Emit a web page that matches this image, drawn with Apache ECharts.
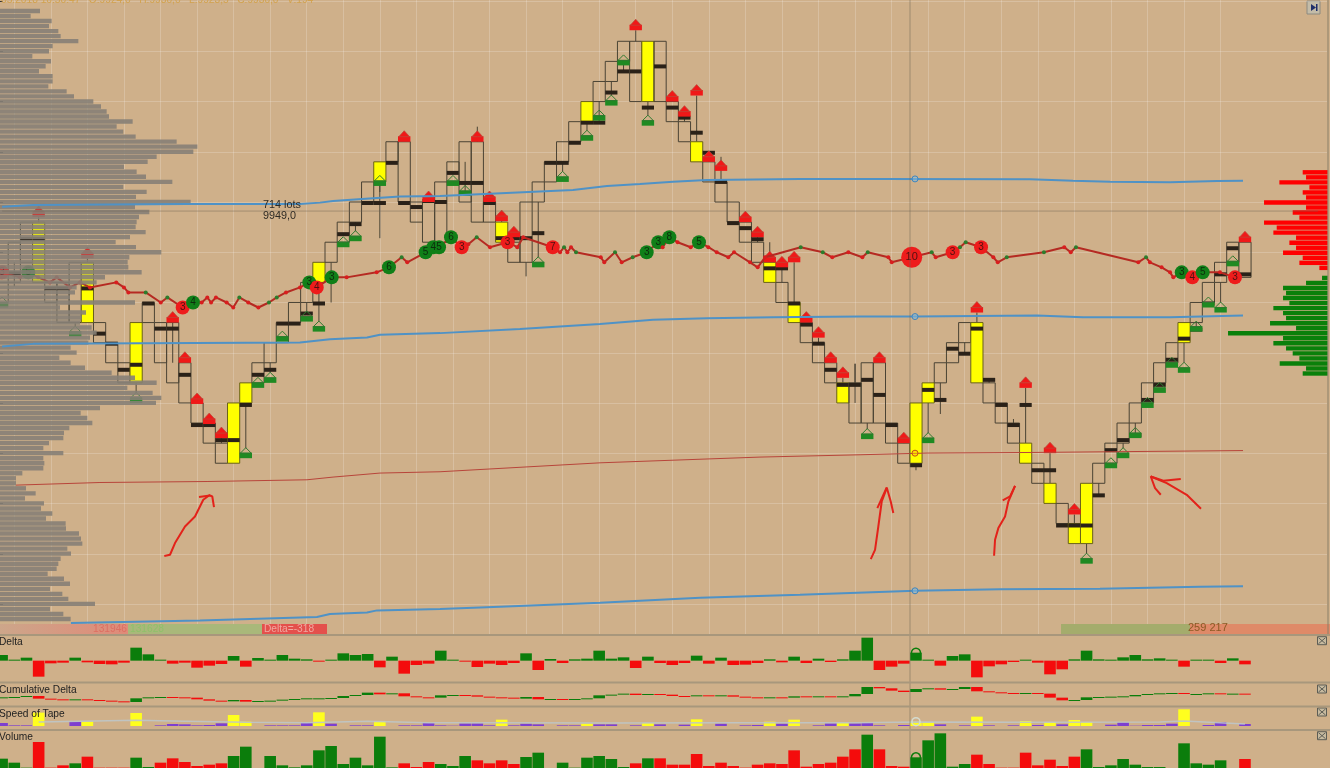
<!DOCTYPE html>
<html><head><meta charset="utf-8"><style>html,body{margin:0;padding:0;background:#cfb08a;overflow:hidden}#c{width:1330px;height:768px}</style>
<script src="https://cdn.jsdelivr.net/npm/echarts@6/dist/echarts.min.js"></script></head><body><div id="c"></div>
<script>
const barHigh=[9942,9946,9948,9948,9942,9942,9944,9944,9938,9936,9934,9938,9940,9938,9938,9934,9930,9928,9926,9930,9932,9934,9936,9938,9940,9942,9944,9946,9948,9950,9952,9954,9956,9956,9950,9950,9952,9954,9956,9956,9950,9948,9946,9950,9952,9954,9956,9958,9960,9962,9964,9966,9966,9966,9966,9960,9958,9956,9954,9952,9950,9948,9946,9944,9942,9940,9938,9936,9934,9932,9932,9934,9934,9928,9926,9930,9932,9934,9936,9938,9938,9932,9930,9928,9926,9924,9922,9920,9918,9922,9924,9926,9928,9930,9932,9934,9936,9938,9940,9942,9944,9946,9946];
const barLow=[9940,9942,9944,9942,9940,9938,9938,9938,9936,9934,9932,9932,9938,9934,9932,9930,9928,9926,9924,9924,9930,9932,9934,9936,9938,9940,9942,9944,9946,9948,9950,9952,9954,9950,9948,9946,9946,9952,9950,9948,9948,9946,9944,9944,9950,9952,9954,9956,9958,9960,9962,9964,9960,9960,9960,9958,9956,9954,9952,9950,9948,9946,9944,9942,9940,9938,9936,9934,9932,9930,9928,9928,9928,9926,9924,9924,9930,9932,9934,9936,9932,9930,9928,9926,9924,9922,9920,9918,9916,9916,9922,9924,9926,9928,9930,9932,9934,9936,9938,9940,9942,9944,9942.5];
const fastBars=[3,7,11,19,20,26,31,41,48,53,57,63,65,69,75,76,80,84,86,88,89,97];
const pocPrice=[null,9942.9,9946.3,9946.3,9941.4,9941.4,null,9941.4,9936.9,9935.9,9933.3,9933.8,9939.9,9937.4,9937.4,9932.8,9927.8,9927.8,9926.3,9926.3,9929.8,9932.8,9933.3,9937.9,9937.9,9938.9,9939.9,null,9946.8,9947.8,9949.9,9949.9,9953.9,9949.9,9949.5,9950.1,9950,9952.9,9951.9,9951.9,9949.9,9946.4,9946.4,9946.4,9946.9,9953.9,9953.9,9955.9,9957.9,9957.9,9960.9,9963,9963,9959.4,9963.5,9959.4,9958.4,9956.9,9954.9,9952,9947.9,9947.4,9946.3,9943.4,9943.4,9939.9,9937.8,9935.9,9933.3,9931.8,9931.8,9932.3,9930.8,9927.8,9926.3,9923.8,9931.3,9930.3,9935.4,9934.9,9937.4,9932.3,9929.8,9927.8,9929.8,9923.3,9923.3,9917.8,9917.8,9917.8,9920.8,9925.3,9926.3,9926.8,9930.3,9931.8,9934.3,9936.4,9937.3,9939.9,9942.8,9945.4,9942.8];
const redMarks=[[3,9948.5],[7,9944.4],[14,9938],[15,9934],[16,9929.9],[17,9927.9],[18,9926.5],[33,9956],[35,9950],[39,9956],[40,9950],[41,9948.1],[42,9946.5],[52,9967.1],[55,9960],[56,9958.5],[57,9960.6],[58,9954],[59,9953.1],[61,9948],[62,9946.5],[63,9944],[64,9943.5],[65,9944],[66,9938],[67,9936.5],[68,9934],[69,9932.5],[72,9934],[74,9926],[80,9939],[84,9931.5],[86,9925],[88,9918.9],[102,9946]];
const greenMarks=[[0,9939.5],[6,9936.6],[11,9930],[20,9924.5],[21,9931.5],[22,9932],[23,9936.1],[25,9938.1],[26,9937.1],[28,9945.5],[29,9946.1],[31,9951.6],[37,9951.6],[38,9950.6],[44,9943.5],[46,9952],[48,9956.1],[49,9958.1],[50,9959.6],[51,9963.6],[53,9957.6],[71,9926.4],[76,9926],[89,9914],[91,9923.5],[92,9924.5],[93,9926.5],[94,9929.5],[95,9931],[96,9933.5],[97,9933],[98,9937.1],[99,9939.5],[100,9939],[101,9943.6]];
const wickHighs=[[39,9957.5],[59,9954.5],[63,9946],[70,9933.9],[83,9928.4]];
const wickLows=[[27,9940],[31,9946.4],[43,9942.6],[75,9923.3],[77,9928.9]];
const innerWicks=[[14,9938,9934],[38,9954,9951],[70,9933.9,9930],[31,9952,9951],[1,9944,9941.6]];
const threadX=[0,1.47,2.15,2.95,3.93,4.48,5.57,6.39,7.21,9.37,10,10.36,11.79,13.02,13.56,14.82,15.67,16.38,16.84,17.15,17.55,18.43,18.97,19.47,20.2,21.03,21.9,22.54,23.3,24.45,25.21,25.82,27.05,28.28,30.74,31.75,32.79,33.25,34.76,35.39,35.86,36.84,37.72,38.26,38.95,40.04,41.49,42.28,42.77,45.19,45.79,46.12,46.39,46.69,47.1,49.13,49.42,50.3,50.85,51.75,52.9,53.85,54.21,54.76,55.44,56.51,57.19,57.96,58.65,59.6,60.07,61.38,62.01,62.61,65.54,67.35,68.13,69.45,70.6,71.04,72.73,73.01,74.65,76.29,76.62,78.01,78.61,79.08,80.34,81.35,81.71,82.45,85.5,87.17,87.7,88.13,93.24,93.88,94.2,95.16,95.85,96.12,96.81,97.68,98.53,99.95,101.18];
const threadY=[9943,9942.5,9943,9942.5,9942,9942.5,9941.5,9942,9941.5,9942,9941.5,9941,9941,9940,9940.5,9939.5,9940,9940,9940.5,9940,9940.5,9940,9939.5,9940.5,9940,9939.5,9940,9940.5,9941,9941.5,9942,9941.5,9942.5,9942.5,9943,9943.5,9944.5,9944,9945,9945.5,9945.5,9946.5,9945.5,9945.8,9946.5,9945.5,9946,9945.5,9946.5,9945.5,9945,9945.5,9945,9945.5,9945,9944.5,9944,9945,9944,9944.5,9945,9946,9945.5,9946.5,9946,9945.5,9946,9945.5,9945,9944.5,9945,9944,9943.5,9944.5,9945.5,9945,9944.5,9945,9944.5,9945,9944.5,9944,9944.5,9945,9944.5,9945,9945.5,9946,9945.5,9944.5,9944,9944.5,9945,9945.5,9945,9945.5,9944,9944.5,9944,9943.5,9943,9942.5,9943,9942.5,9943,9943,9942.5];
const threadMark=['-3','r','+5','r','r','r','r','r','r','r','r','r','g','r','g','-3','+4','r','r','r','r','r','r','g','r','r','g','g','r','r','+3','-4','+3','r','r','+6','g','r','+5','+4','+5','+6','-3','r','g','r','-3','r','r','-7','r','g','r','r','g','r','r','g','r','g','+3','+3','r','+8','r','r','+5','r','r','r','r','r','r','r','g','g','r','r','r','g','r','r','-10','g','r','-3','g','g','-3','r','r','g','g','r','r','g','r','g','r','r','r','r','+3','-4','+5','r','-3'];
const vwapUpperX=[0,2.54,15.17,24.45,26.09,27.16,30.44,32.66,35.94,42.75,46.85,49.64,52.35,55.06,57.85,65.48,72.05,84.36,87.89,90.93,95.85,99.71,101.84];
const vwapUpperY=[9949.54,9949.71,9949.81,9949.81,9949.94,9950.11,9950.38,9950.54,9950.61,9950.98,9951.2,9951.6,9951.8,9952.03,9952.2,9952.3,9952.3,9952.27,9952.13,9952.03,9951.97,9952.1,9952.13];
const vwapMiddleX=[0,2.54,7.21,24.45,26.91,29.95,31.01,35.94,42.5,49.07,53.42,57.85,63.27,70.41,74.92,84.93,88.71,95.85,101.84];
const vwapMiddleY=[9935.61,9935.88,9935.91,9936.01,9936.35,9936.51,9936.78,9936.95,9937.37,9937.87,9938.27,9938.44,9938.54,9938.6,9938.6,9938.7,9938.54,9938.54,9938.7];
const vwapLowerX=[5.65,16.24,25.84,26.91,29.95,30.77,35.94,40.86,49.07,57.28,65.48,74.92,81.9,90.1,98.31,101.84];
const vwapLowerY=[9908.09,9908.35,9908.69,9908.99,9909.15,9909.35,9909.48,9909.71,9910.11,9910.61,9910.91,9911.3,9911.45,9911.5,9911.7,9911.75];
const avgLineX=[1.14,8.03,16.82,25.02,27.16,31.01,35.94,49.07,62.2,70.41,75.91,84.36,101.84];
const avgLineY=[9921.82,9922.08,9922.18,9922.35,9922.62,9923.02,9923.15,9924.04,9924.61,9924.84,9925.01,9925.07,9925.26];
const cursorX=[74.92,74.92,74.92];
const cursorLevels=[9952.3,9938.6,9911.3];
const cursorAvg=[[74.92,9925]];
const profileLeft=[120,92,155,147,175,182,235,158,147,97,153,137,117,158,158,145,200,222,280,303,320,327,398,350,370,407,530,592,580,470,443,372,410,438,517,370,440,408,572,405,448,417,410,407,437,390,347,408,484,388,383,385,425,315,290,230,225,210,405,180,258,245,240,275,290,270,265,212,230,178,212,255,335,405,470,382,458,484,468,300,242,262,277,208,192,190,147,130,190,130,133,130,67,48,48,78,107,75,132,123,157,138,197,198,237,243,247,202,213,182,175,170,143,192,210,150,187,205,285,150,190,212];
const profileRed=[75,65,145,55,75,65,191,65,105,85,191,153,163,95,115,95,134,75,85,25];
const profileGreen=[17,65,134,125,134,115,163,134,125,173,95,299,134,163,125,105,85,144,65,75];
const deltaValues=[17,1,9,-48,-8,-6,9,-5,-10,-11,-6,39,19,1,-9,-6,-21,-15,-10,14,-18,8,3,17,6,4,-2,1,22,17,20,-20,12,-39,-13,-9,30,1,-1,-19,-9,-13,-7,22,-28,5,-7,4,6,30,6,10,-22,12,-7,-13,-7,15,-9,9,-13,-12,-7,4,-5,12,-7,6,-4,4,30,69,-28,-18,-9,24,0,-15,14,19,-50,-17,-11,-4,1,-6,-41,-26,4,30,4,1,10,17,4,7,2,-18,2,2,-7,7,-11];
const cumDelta=[26,27,30,22,20,18,20,18,16,14,12,23,26,27,26,25,20,16,14,18,13,15,16,19,21,23,23,24,30,33,40,35,38,29,26,25,32,33,32,28,26,25,22,27,20,21,20,21,23,32,34,37,33,36,34,30,29,32,30,32,28,26,25,26,25,29,27,29,28,29,36,57,53,46,42,51,53,49,51,57,44,41,39,38,39,37,25,17,18,26,27,28,29,33,36,38,39,36,36,38,36,37,36];
const speedValues=[9,2,2,40,0,0,13,13,0,0,0,39,0,2,6,5,2,3,8,33,13,0,2,2,2,9,41,7,0,2,2,14,0,2,2,9,2,1,8,8,2,19,2,7,5,0,2,2,7,5,5,0,2,9,5,0,4,20,0,7,0,2,3,13,7,19,0,2,8,10,8,9,2,0,3,13,11,5,0,2,28,2,0,2,15,3,12,5,18,12,0,4,11,1,3,3,7,50,0,3,12,0,6];
const speedAvgK=[3,11,15,20,25,30,35,40,50,60,70,75,85,95,97,102];
const speedAvgV=[12,17,14,11,10,14,10,10,9,10,10,12,11,12,15,6];
const volumeSigned=[28,16,1,-78,-1,-8,14,-34,-1,-1,-1,31,3,-16,-29,-18,-6,-10,-14,36,64,0,36,8,2,8,53,66,12,31,8,94,2,-14,-3,-18,12,6,36,-23,-14,-23,-12,33,46,0,16,1,31,36,27,3,-14,29,-29,-10,-10,-42,-6,-16,-6,-1,-10,-14,-12,-53,-4,-12,-16,-34,-56,100,-56,-6,-4,32,83,104,4,12,-40,-12,-1,-1,-46,-8,-25,-6,-34,56,3,8,27,10,3,3,0,74,14,10,23,0,-27];
const noteStrokes=[
[[13.31,9914.76],[13.78,9914.89],[14.19,9916.05],[15.01,9917.7],[15.83,9918.7],[16.51,9920.36],[17.06,9920.86]],
[[16.16,9920.63],[17.06,9920.79],[17.25,9920.69],[17.39,9919.63]],
[[71.29,9914.46],[71.64,9915.38],[71.91,9917.7],[72.19,9920.19],[72.6,9921.52]],
[[71.83,9919.53],[72.6,9921.58],[72.93,9920.19],[73.14,9919.04]],
[[81.41,9914.79],[81.49,9916.38],[81.76,9917.54],[82.31,9918.7],[82.58,9920.19],[83.13,9921.75]],
[[82.12,9920.29],[82.72,9920.69],[83.13,9921.75]],
[[98.39,9919.46],[97.22,9920.86],[95.58,9922.02],[94.27,9922.68]],
[[96.73,9922.42],[95.3,9922.25],[94.27,9922.68],[94.62,9921.52],[95.09,9920.86]]];
const crossBar=74.51, crossPrice=9949.1;
const categories=Array.from({length:109},(_,i)=>String(i));

const RED='#f40c0c',GREEN='#0b7d0b',INK='#4a4334',POC='#2a2118',LW=12.185;
const fast=new Set(fastBars);
const rows=barHigh.map((h,k)=>{
  let hi=h,lo=barLow[k];
  const p=pocPrice[k];
  if(p!=null){hi=Math.max(hi,p);lo=Math.min(lo,p);}
  wickHighs.forEach(w=>{if(w[0]===k)hi=Math.max(hi,w[1]);});
  wickLows.forEach(w=>{if(w[0]===k)lo=Math.min(lo,w[1]);});
  redMarks.forEach(w=>{if(w[0]===k)hi=Math.max(hi,w[1]);});
  greenMarks.forEach(w=>{if(w[0]===k)lo=Math.min(lo,w[1]+1);});
  return [k,h,barLow[k],hi,lo,p==null?-1:p];
});
function barRender(params,api){
  const k=api.value(0),x=api.coord([k,api.value(1)])[0];
  const yT=api.coord([k,api.value(1)])[1],yB=api.coord([k,api.value(2)])[1];
  const yH=api.coord([k,api.value(3)])[1],yL=api.coord([k,api.value(4)])[1];
  const p=api.value(5),w=LW,ch=[];
  const wick=(a,b)=>ch.push({type:'line',shape:{x1:x,y1:a,x2:x,y2:b},style:{stroke:INK,lineWidth:1}});
  if(yH<yT)wick(yH,yT);
  if(yL>yB)wick(yB,yL);
  ch.push({type:'rect',shape:{x:x-w/2,y:yT,width:w,height:yB-yT},style:{fill:fast.has(k)?'#ffff00':'rgba(0,0,0,0)',stroke:fast.has(k)?'#6a6218':INK,lineWidth:1}});
  innerWicks.forEach(v=>{if(v[0]===k)wick(api.coord([k,v[1]])[1],api.coord([k,v[2]])[1]);});
  if(p>0){const yp=api.coord([k,p])[1];ch.push({type:'rect',shape:{x:x-w/2,y:yp-2,width:w,height:4},style:{fill:POC}});}
  return {type:'group',children:ch};
}
function markRender(col,isRed){return function(params,api){
  const c=api.coord([api.value(0),api.value(1)]),x=c[0],y=c[1];
  return {type:'group',children:isRed?[
    {type:'rect',shape:{x:x-6.2,y:y-5.5,width:12.4,height:5.5},style:{fill:col}},
    {type:'polygon',shape:{points:[[x-5.5,y-5],[x,y-11],[x+5.5,y-5]]},style:{fill:col,stroke:'#b94a3a',lineWidth:0.7}}
  ]:[
    {type:'rect',shape:{x:x-6.2,y:y-5.5,width:12.4,height:5.5},style:{fill:col}},
    {type:'polygon',shape:{points:[[x-5.5,y-5],[x,y-10.5],[x+5.5,y-5]]},style:{fill:'rgba(0,0,0,0)',stroke:'#2f7a2f',lineWidth:1}}
  ]};
};}
const threadPts=threadX.map((x,i)=>[x,threadY[i]]);
const dotPts=threadPts.map((p,i)=>{
  const m=threadMark[i];
  if(m==='r'||m==='g')return {value:p,symbolSize:4,itemStyle:{opacity:1,color:m==='r'?'#d81e1e':'#2c7d2c'}};
  const n=Math.abs(+m),pos=m[0]==='+';
  return {value:p,symbolSize:n>=10?21:14,itemStyle:{opacity:1,color:pos?'#107f18':'#ee1c1c'},
    label:{show:true,position:'inside',formatter:String(n),fontSize:n>=10?11:10,fontFamily:'Liberation Sans',color:pos?'#0c2c0c':'#501010'}};
});
const lineS=(xs,ys,color,width,z)=>({type:'line',xAxisIndex:2,yAxisIndex:1,data:xs.map((x,i)=>[x,ys[i]]),showSymbol:false,symbol:'none',silent:true,z:z,
  lineStyle:{color:color,width:width}});
function colored(arr){return arr.map(v=>({value:v,itemStyle:{color:v>=0?GREEN:RED}}));}
const panelCat=(gridIndex)=>({type:'category',gridIndex,data:categories,boundaryGap:false,axisLine:{show:false},axisTick:{show:false},axisLabel:{show:false},splitLine:{show:false}});
const hiddenVal=(gridIndex,min,max,inv)=>({type:'value',gridIndex,min,max,inverse:!!inv,show:false,splitLine:{show:false}});
const hiddenCat=(gridIndex,data)=>({type:'category',gridIndex,data,inverse:true,show:false});
const leftRows=profileLeft.map((_,i)=>String(9969-i*0.5));
const rightValues=profileRed.concat([0],profileGreen);
const rightRows=rightValues.map((_,i)=>String(9953-i*0.5));
const barGrid={left:2.1,width:108*LW};
const txt=(x,y,text,size,fill,extra)=>({type:'text',x,y,z:50,silent:true,style:Object.assign({text,fontSize:size,fontFamily:'Liberation Sans',fill,textVerticalAlign:'middle'},extra||{})});
const sep=y=>({type:'rect',z:49,silent:true,shape:{x:0,y:y-1,width:1330,height:2},style:{fill:'#a8977c'}});
const closeBox=y=>({type:'group',x:1317.5,y:y-4,z:50,silent:true,children:[
  {type:'rect',shape:{x:0,y:0,width:9,height:8},style:{fill:'#c7ba9f',stroke:'#5d5d55',lineWidth:1}},
  {type:'line',shape:{x1:1,y1:1,x2:8,y2:7},style:{stroke:'#5d5d55'}},
  {type:'line',shape:{x1:8,y1:1,x2:1,y2:7},style:{stroke:'#5d5d55'}}]});

const series=[
 {type:'custom',xAxisIndex:1,yAxisIndex:1,data:rows,renderItem:barRender,encode:{x:0,y:1},z:2,silent:true,clip:false},
 {type:'custom',xAxisIndex:1,yAxisIndex:1,data:redMarks,renderItem:markRender('#f01818',true),encode:{x:0,y:1},z:2,silent:true,clip:false},
 {type:'custom',xAxisIndex:1,yAxisIndex:1,data:greenMarks,renderItem:markRender('#1f8a22',false),encode:{x:0,y:1},z:2,silent:true,clip:false},
 lineS(avgLineX,avgLineY,'#b8453a',1,2),
 lineS(threadX,threadY,'#b52a22',2,3),
 {type:'scatter',xAxisIndex:2,yAxisIndex:1,data:dotPts,z:3,silent:true,symbol:'circle'},
 {type:'bar',xAxisIndex:3,yAxisIndex:2,data:profileLeft,barWidth:4.4,z:4,silent:true,itemStyle:{color:'rgba(134,127,117,0.9)'}},
 {type:'bar',xAxisIndex:4,yAxisIndex:3,data:rightValues.map((v,i)=>({value:v,itemStyle:{color:i<profileRed.length?'#ff0000':'#0a800a'}})),barWidth:4.4,z:4,silent:true},
 lineS(vwapUpperX,vwapUpperY,'#4f92c6',2,5),
 lineS(vwapMiddleX,vwapMiddleY,'#4f92c6',2,5),
 lineS(vwapLowerX,vwapLowerY,'#4f92c6',2,5),
 {type:'scatter',xAxisIndex:2,yAxisIndex:1,data:cursorX.map((x,i)=>[x,cursorLevels[i]]),symbolSize:6,z:6,silent:true,itemStyle:{opacity:1,color:'rgba(140,190,220,0.5)',borderColor:'#3d86c0',borderWidth:1}},
 {type:'scatter',xAxisIndex:2,yAxisIndex:1,data:cursorAvg,symbolSize:6,z:6,silent:true,itemStyle:{opacity:1,color:'rgba(255,200,0,0.5)',borderColor:'#c8501a',borderWidth:1}},
 ...noteStrokes.map(s=>({type:'line',xAxisIndex:2,yAxisIndex:1,data:s,symbol:'none',silent:true,z:7,lineStyle:{color:'#e3221a',width:2}})),
 {type:'bar',xAxisIndex:5,yAxisIndex:4,data:colored(deltaValues),barWidth:11.6,barMinHeight:1,silent:true,z:2},
 {type:'scatter',xAxisIndex:5,yAxisIndex:4,data:[[75,deltaValues[75]]],symbolSize:9,silent:true,z:3,itemStyle:{opacity:1,color:'rgba(0,0,0,0)',borderColor:GREEN,borderWidth:1.5}},
 {type:'custom',xAxisIndex:6,yAxisIndex:5,data:cumDelta.map((v,k)=>[k,k?cumDelta[k-1]:v,v]),encode:{x:0,y:2},silent:true,z:2,clip:false,renderItem:(p,api)=>{
   const k=api.value(0),a=api.coord([k,api.value(1)]),b=api.coord([k,api.value(2)]);
   const top=Math.min(a[1],b[1]),h=Math.max(1,Math.abs(a[1]-b[1]));
   return {type:'rect',shape:{x:a[0]-5.8,y:top,width:11.6,height:h},style:{fill:api.value(2)>=api.value(1)?GREEN:RED}};
 }},
 {type:'bar',xAxisIndex:7,yAxisIndex:6,data:speedValues.map((v,k)=>({value:v,itemStyle:{color:fast.has(k)?'#ffff1e':'#7d3fd0'}})),barWidth:11.6,silent:true,z:2},
 {type:'line',xAxisIndex:7,yAxisIndex:6,data:speedAvgK.map((k,i)=>[k,speedAvgV[i]]),symbol:'none',silent:true,z:3,lineStyle:{color:'rgba(190,198,200,0.9)',width:1.5}},
 {type:'scatter',xAxisIndex:7,yAxisIndex:6,data:[[75,speedValues[75]]],symbolSize:8,silent:true,z:4,itemStyle:{opacity:1,color:'rgba(0,0,0,0)',borderColor:'#d5dcd0',borderWidth:1.5}},
 {type:'bar',xAxisIndex:8,yAxisIndex:7,data:volumeSigned.map(v=>({value:Math.abs(v),itemStyle:{color:v>=0?GREEN:RED}})),barWidth:11.6,silent:true,z:2},
 {type:'scatter',xAxisIndex:8,yAxisIndex:7,data:[[75,Math.abs(volumeSigned[75])]],symbolSize:9,silent:true,z:3,itemStyle:{opacity:1,color:'rgba(0,0,0,0)',borderColor:GREEN,borderWidth:1.5}},
 {type:'line',xAxisIndex:9,yAxisIndex:8,data:[[crossBar,0],[crossBar,1]],symbol:'none',silent:true,z:8,lineStyle:{color:'rgba(110,100,85,0.5)',width:1}},
 {type:'line',xAxisIndex:2,yAxisIndex:1,data:[[0,crossPrice],[108,crossPrice]],symbol:'none',silent:true,z:8,lineStyle:{color:'rgba(110,100,85,0.45)',width:1}}
];

const chart=echarts.init(document.getElementById('c'),null,{renderer:'canvas',width:1330,height:768});
chart.setOption({
 animation:false,backgroundColor:'#cfb08a',
 grid:[
  {left:0,width:1327,top:1.1,height:603},
  {left:barGrid.left,width:barGrid.width,top:0,height:634},
  {left:0,width:1330,top:8.49,height:613},
  {left:327.7,width:1000,top:169.8,height:206.2},
  {left:barGrid.left,width:barGrid.width,top:636,height:46},
  {left:barGrid.left,width:barGrid.width,top:683.3,height:22.7},
  {left:barGrid.left,width:barGrid.width,top:707.3,height:18.7},
  {left:barGrid.left,width:barGrid.width,top:731,height:37},
  {left:barGrid.left,width:barGrid.width,top:0,height:768}
 ],
 xAxis:[
  hiddenVal(0,0,100),
  {type:'category',gridIndex:1,data:categories,boundaryGap:false,axisLine:{show:false},axisTick:{show:false},axisLabel:{show:false},
   splitLine:{show:true,interval:(i)=>i%3===1&&i<=100,lineStyle:{color:'rgba(255,255,255,0.2)',width:1}}},
  hiddenVal(1,0,108),
  hiddenVal(2,0,3990),
  hiddenVal(3,0,3000,true),
  panelCat(4),panelCat(5),panelCat(6),panelCat(7),
  hiddenVal(8,0,108)
 ],
 yAxis:[
  {type:'value',gridIndex:0,position:'right',min:9910,max:9970,interval:5,axisLine:{show:false},axisTick:{show:true,length:3,inside:false,lineStyle:{color:'#333'}},axisLabel:{show:false},
   splitLine:{show:true,lineStyle:{color:'rgba(255,255,255,0.2)',width:1}}},
  hiddenVal(1,9907,9970.11),
  hiddenCat(2,leftRows),
  hiddenCat(3,rightRows),
  hiddenVal(4,-64,74),
  hiddenVal(5,0,68),
  hiddenVal(6,0,56),
  hiddenVal(7,0,111),
  hiddenVal(8,0,1)
 ],
 series,
 graphic:{elements:[
  {type:'rect',z:48,silent:true,shape:{x:0,y:624,width:128,height:10},style:{fill:{type:'linear',x:0,y:0,x2:1,y2:0,colorStops:[{offset:0,color:'#cda68a'},{offset:1,color:'#e08a78'}]}}},
  {type:'rect',z:48,silent:true,shape:{x:128,y:624,width:134,height:10},style:{fill:'#a9b87a'}},
  {type:'rect',z:48,silent:true,shape:{x:262,y:624,width:65,height:10},style:{fill:'#e4504c'}},
  {type:'rect',z:48,silent:true,shape:{x:1061,y:624,width:129,height:10},style:{fill:'#a4ac6c'}},
  {type:'rect',z:48,silent:true,shape:{x:1190,y:624,width:140,height:10},style:{fill:'#df8a68'}},
  sep(635),sep(682.5),sep(706.5),sep(730),
  {type:'rect',z:49,silent:true,shape:{x:1327.5,y:0,width:1,height:634},style:{fill:'#8c8069'}},
  txt(93,629.5,'131946',10.2,'#dc6f62'),
  txt(130,629.5,'131628',10.2,'#8fc06a'),
  txt(264,629.5,'Delta=-318',10.2,'#f0a8a0'),
  txt(1188,628,'259 217',11,'#8a5a24'),
  txt(-1,642.5,'Delta',10.2,'#222'),
  txt(-1,690.5,'Cumulative Delta',10.2,'#222'),
  txt(-1,714,'Speed of Tape',10.2,'#222'),
  txt(-1,737.5,'Volume',10.2,'#222'),
  txt(263,205,'714 lots',10.8,'#2e2a24'),
  txt(263,216,'9949,0',10.8,'#2e2a24'),
  txt(1,0.5,'05.2018 16:50:47   O:9924,0   H:9930,0   L:9923,5   C:9930,0   V:194',10.2,'#d2a24e',{}),
  closeBox(640.7),closeBox(689),closeBox(712),closeBox(735.7),
  {type:'group',x:1307,y:1,z:50,silent:true,children:[
   {type:'rect',shape:{x:0,y:0,width:13,height:13},style:{fill:'#c4bca8',stroke:'#8c8a80',lineWidth:1}},
   {type:'polygon',shape:{points:[[4,3],[9,6.5],[4,10]]},style:{fill:'#1f2f6a'}},
   {type:'rect',shape:{x:9,y:3,width:1.5,height:7},style:{fill:'#1f2f6a'}}]}
 ]}
});
</script></body></html>
